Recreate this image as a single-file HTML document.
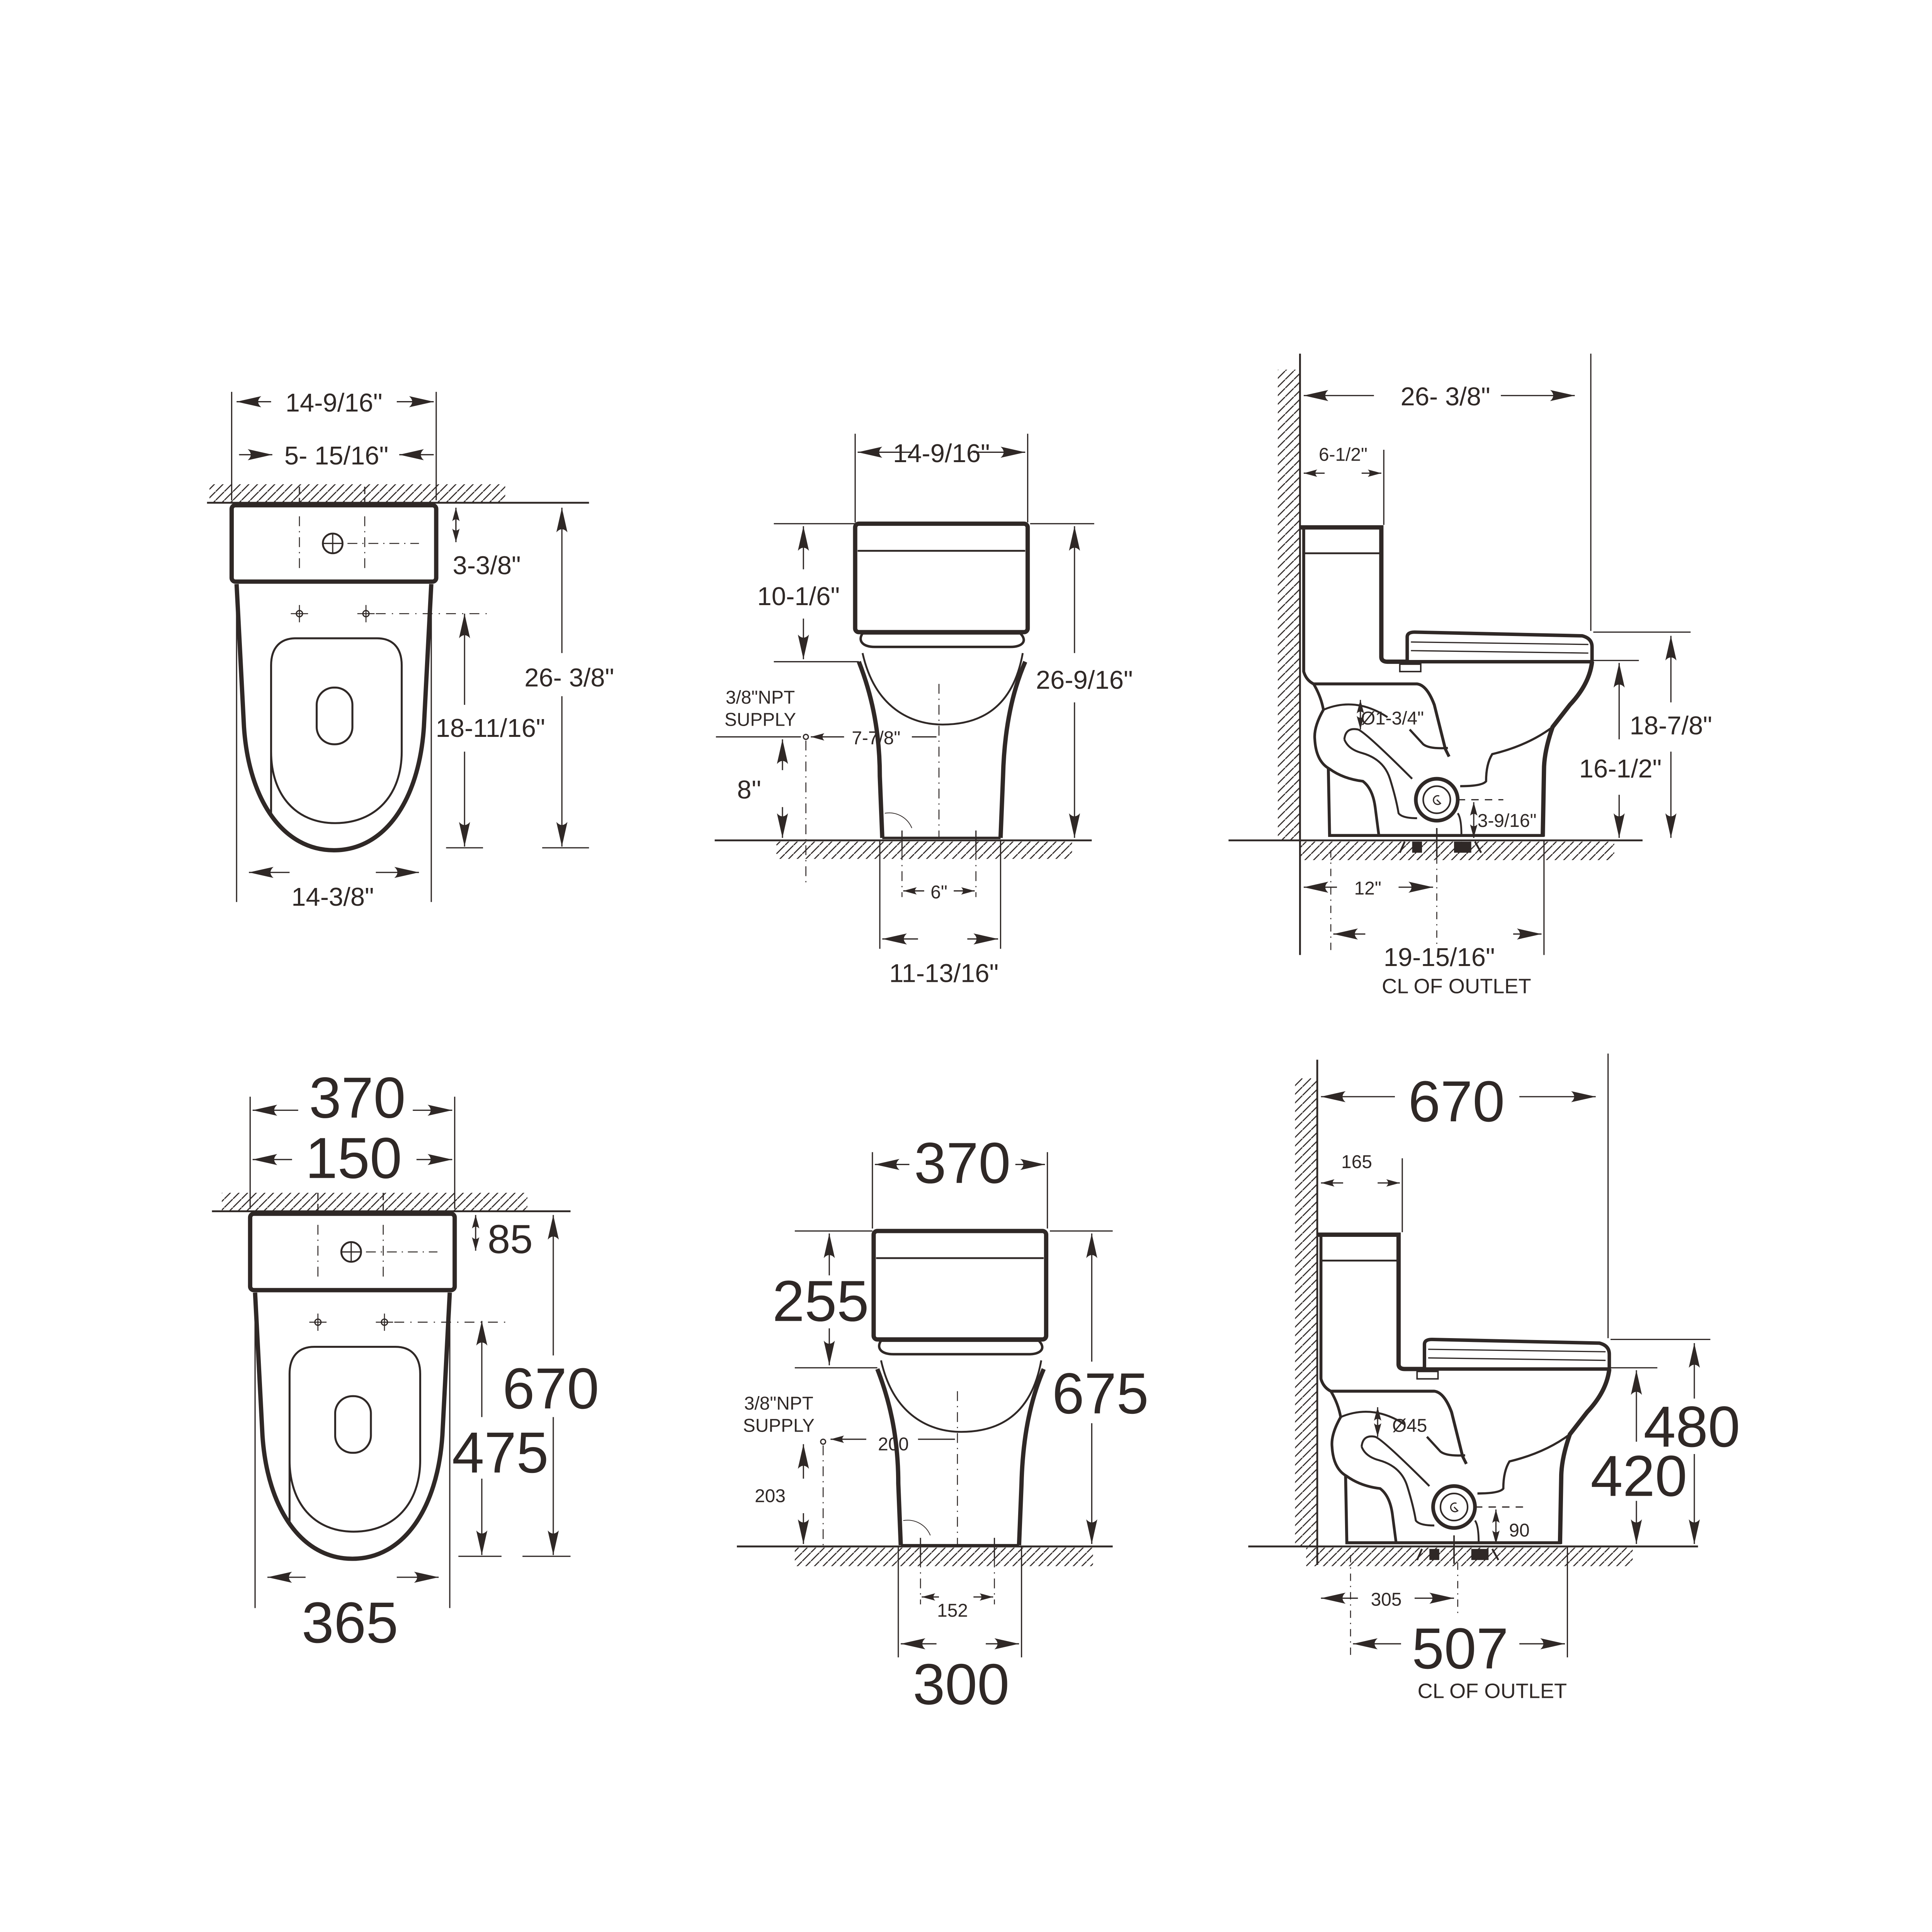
<!DOCTYPE html>
<html><head><meta charset="utf-8"><style>
html,body{margin:0;padding:0;background:#fff;width:100%;height:100%;overflow:hidden}
#wrap{position:absolute;left:0;top:0;width:100vw;height:100vh;overflow:hidden;background:#fff}
#wrap svg{position:absolute;left:0;top:0;transform:scale(3.189);transform-origin:0 0;display:block}
text{font-family:"Liberation Sans",Arial,sans-serif;fill:#2f2826}
</style></head><body><div id="wrap">
<svg width="1568" height="1568" viewBox="0 0 1568 1568" xmlns="http://www.w3.org/2000/svg" xmlns:xlink="http://www.w3.org/1999/xlink">
<defs>
<pattern id="h" patternUnits="userSpaceOnUse" width="7" height="7">
<path d="M-1,8 L8,-1" stroke="#2f2826" stroke-width="0.9"/>
</pattern>
<marker id="a" viewBox="-20 -5 21 10" refX="0" refY="0" markerWidth="21" markerHeight="10" markerUnits="userSpaceOnUse" orient="auto">
<path d="M0,0 L-20,-4.5 Q-15,0 -20,4.5 Z" fill="#2f2826"/>
</marker>
<marker id="s" viewBox="-11 -4 12 8" refX="0" refY="0" markerWidth="12" markerHeight="8" markerUnits="userSpaceOnUse" orient="auto">
<path d="M0,0 L-11,-3 Q-8,0 -11,3 Z" fill="#2f2826"/>
</marker>
<g id="plan" fill="none" stroke="#2f2826">
<rect x="188" y="410" width="166" height="62" rx="3" stroke-width="3.5"/>
<path d="M192,474 L198,590 C202,650 230,690 271,690 C312,690 340,650 344,590 L350,474" stroke-width="3.5"/>
<path d="M220,660 L220,540 C220,525 228,518 240,518 L306,518 C318,518 326,525 326,540 L326,610 C326,645 305,668 272,668 C240,668 220,645 220,610 Z" stroke-width="1.6"/>
<rect x="257" y="558" width="29" height="46" rx="14" stroke-width="1.6"/>
<circle cx="270" cy="441" r="8" stroke-width="1.5"/>
<path d="M262,441 L278,441 M270,433 L270,449" stroke-width="1"/>
<path d="M243,419 L243,463 M296,419 L296,463 M282,441 L340,441" stroke-width="0.8" stroke-dasharray="8,4,1,4"/>
<circle cx="243" cy="498" r="2.5" stroke-width="1"/>
<circle cx="297" cy="498" r="2.5" stroke-width="1"/>
<path d="M236,498 L250,498 M243,491 L243,505 M290,498 L304,498 M297,491 L297,505" stroke-width="0.8"/>
<path d="M305,498 L395,498" stroke-width="0.8" stroke-dasharray="8,5,1,5"/>
</g>
<g id="front" fill="none" stroke="#2f2826">
<rect x="694" y="425" width="140" height="88" rx="3" stroke-width="3.5"/>
<path d="M696,447 L832,447" stroke-width="1.5"/>
<path d="M700,514 C696,520 700,525 710,525 L820,525 C830,525 834,520 828,514 Z" stroke-width="2"/>
<path d="M700,530 C710,575 740,588 765,588 C795,588 822,575 830,530" stroke-width="1.5"/>
<path d="M697,537 C706,560 714,590 714,630 L716,680" stroke-width="3.5"/>
<path d="M832,537 C822,560 815,590 814,630 L812,680" stroke-width="3.5"/>
<path d="M716,680 L812,680" stroke-width="2"/>
<path d="M762,555 L762,680" stroke-width="0.8" stroke-dasharray="8,4,1,4"/>
<path d="M718,660 A20,20 0 0 1 740,672" stroke-width="0.6"/>
<path d="M732,674 L732,690 M792,674 L792,690" stroke-width="1"/>
</g>
<g id="side" fill="none" stroke="#2f2826">
<path d="M1055,428 L1121,428 L1121,533 Q1121,537 1126,537 L1142,537" stroke-width="3.5"/>
<path d="M1057,449 L1121,449" stroke-width="1.5"/>
<path d="M1142,537 L1142,517 Q1142,513 1148,513 L1284,516 Q1292,518 1292,525 L1292,537 Z" stroke-width="2.8"/>
<path d="M1145,521 L1289,523 M1145,528 L1289,530" stroke-width="1"/>
<rect x="1136" y="539" width="17" height="6" stroke-width="1.2"/>
<path d="M1058,428 L1058,545 Q1060,552 1066,555 L1150,555 Q1158,556 1164,572 L1173,608 L1176,614" stroke-width="2.4"/>
<path d="M1144,592 L1155,604 Q1160,608 1175,607" stroke-width="1.8"/>
<path d="M1292,537 Q1290,555 1274,572 L1260,590 Q1253,610 1253,625 L1252,679" stroke-width="3.5"/>
<path d="M1260,590 Q1240,605 1211,612 Q1206,620 1206,634 Q1203,638 1185,638" stroke-width="1.8"/>
<path d="M1066,555 Q1072,565 1074,576 Q1066,590 1067,600 Q1068,618 1079,624 Q1090,632 1106,634 Q1114,640 1116,655 L1119,678" stroke-width="2.2"/>
<path d="M1078,624 L1079,678 L1253,678" stroke-width="2.4"/>
<path d="M1074,576 Q1100,565 1126,582" stroke-width="1.6"/>
<path d="M1091,600 Q1092,590 1102,592 Q1108,594 1146,632" stroke-width="1.6"/>
<path d="M1091,600 Q1094,608 1105,611 Q1123,616 1128,632 Q1133,648 1135,660 Q1138,664 1150,664" stroke-width="1.6"/>
<circle cx="1166" cy="649" r="17" stroke-width="3"/>
<circle cx="1166" cy="649" r="11" stroke-width="1.3"/>
<path d="M1168,646 A3.5,3.5 0 1 0 1169,652 L1166,649" stroke-width="1"/>
<path d="M1183,660 Q1186,664 1186,678" stroke-width="1.5"/>
<rect x="1146" y="683" width="8" height="9" fill="#2f2826" stroke="none"/>
<rect x="1180" y="683" width="14" height="9" fill="#2f2826" stroke="none"/>
<path d="M1136,692 L1140,683 M1197,683 L1202,692" stroke-width="1.5"/>
<path d="M1166,672 L1166,695" stroke-width="1.2"/>
</g>
</defs>

<use xlink:href="#plan" href="#plan"/>
<use xlink:href="#front" href="#front"/>
<use xlink:href="#side" href="#side"/>
<use xlink:href="#plan" href="#plan" transform="translate(15,575)"/>
<use xlink:href="#front" href="#front" transform="translate(15,574)"/>
<use xlink:href="#side" href="#side" transform="translate(14,574)"/>

<g fill="none" stroke="#2f2826" stroke-width="1">
<path d="M168,408 L478,408" stroke-width="1.5"/>
<rect x="170" y="393" width="240" height="15" fill="url(#h)" stroke="none"/>
<path d="M188,318 L188,406 M354,318 L354,406 M192,474 L192,732 M350,474 L350,732"/>
<path d="M220,326 L192,326" marker-end="url(#a)"/><path d="M322,326 L352,326" marker-end="url(#a)"/>
<path d="M194,369 L221,369" marker-end="url(#a)"/><path d="M352,369 L324,369" marker-end="url(#a)"/>
<path d="M243,395 L243,408 M296,395 L296,408" stroke-dasharray="6,3"/>
<path d="M370,432 L370,412" marker-end="url(#s)"/><path d="M370,422 L370,440" marker-end="url(#s)"/>
<path d="M456,530 L456,412" marker-end="url(#a)"/><path d="M456,565 L456,687" marker-end="url(#a)"/>
<path d="M440,688 L478,688 M362,688 L392,688"/>
<path d="M377,572 L377,498" marker-end="url(#a)"/><path d="M377,610 L377,687" marker-end="url(#a)"/>
<path d="M235,708 L202,708" marker-end="url(#a)"/><path d="M305,708 L340,708" marker-end="url(#a)"/>
</g>
<g font-size="21" text-anchor="middle">
<text x="271" y="334">14-9/16"</text>
<text x="273" y="377">5- 15/16"</text>
<text x="395" y="466">3-3/8"</text>
<text x="462" y="557">26- 3/8"</text>
<text x="398" y="598">18-11/16"</text>
<text x="270" y="735">14-3/8"</text>
</g>

<g fill="none" stroke="#2f2826" stroke-width="1">
<path d="M580,682 L886,682" stroke-width="1.5"/>
<rect x="630" y="683" width="240" height="14" fill="url(#h)" stroke="none"/>
<path d="M694,352 L694,424 M834,352 L834,424"/>
<path d="M740,367 L696,367" marker-end="url(#a)"/><path d="M790,367 L832,367" marker-end="url(#a)"/>
<path d="M628,425 L694,425 M836,425 L888,425 M628,537 L697,537"/>
<path d="M652,462 L652,427" marker-end="url(#a)"/><path d="M652,502 L652,535" marker-end="url(#a)"/>
<path d="M872,530 L872,427" marker-end="url(#a)"/><path d="M872,570 L872,680" marker-end="url(#a)"/>
<path d="M581,598 L650,598"/>
<circle cx="654" cy="598" r="2"/>
<path d="M654,601 L654,716" stroke-dasharray="8,4,1,4" stroke-width="0.8"/>
<path d="M635,625 L635,600" marker-end="url(#a)"/><path d="M635,655 L635,680" marker-end="url(#a)"/>
<path d="M685,598 L658,598" marker-end="url(#s)"/><path d="M740,598 L760,598"/>
<path d="M732,690 L732,728 M792,690 L792,728" stroke-dasharray="8,4,1,4" stroke-width="0.8"/>
<path d="M750,723 L733,723" marker-end="url(#s)"/><path d="M774,723 L791,723" marker-end="url(#s)"/>
<path d="M714,682 L714,770 M812,682 L812,770"/>
<path d="M745,762 L716,762" marker-end="url(#a)"/><path d="M785,762 L810,762" marker-end="url(#a)"/>
</g>
<g font-size="21" text-anchor="middle">
<text x="764" y="375">14-9/16"</text>
<text x="648" y="491">10-1/6"</text>
<text x="880" y="559">26-9/16"</text>
<text x="608" y="648">8''</text>
<text x="766" y="797">11-13/16"</text>
</g>
<g font-size="15" text-anchor="middle">
<text x="617" y="571">3/8"NPT</text>
<text x="617" y="589">SUPPLY</text>
<text x="711" y="604">7-7/8"</text>
<text x="762" y="729">6"</text>
</g>

<g fill="none" stroke="#2f2826" stroke-width="1">
<path d="M1055,287 L1055,775" stroke-width="1.5"/>
<rect x="1037" y="300" width="18" height="382" fill="url(#h)" stroke="none"/>
<path d="M997,682 L1333,682" stroke-width="1.5"/>
<rect x="1055" y="683" width="255" height="15" fill="url(#h)" stroke="none"/>
<path d="M1291,287 L1291,512 M1123,365 L1123,426"/>
<path d="M1115,321 L1058,321" marker-end="url(#a)"/><path d="M1218,321 L1278,321" marker-end="url(#a)"/>
<path d="M1075,384 L1058,384" marker-end="url(#s)"/><path d="M1105,384 L1121,384" marker-end="url(#s)"/>
<path d="M1293,513 L1372,513 M1293,536 L1330,536"/>
<path d="M1356,570 L1356,516" marker-end="url(#a)"/><path d="M1356,610 L1356,680" marker-end="url(#a)"/>
<path d="M1314,600 L1314,538" marker-end="url(#a)"/><path d="M1314,645 L1314,680" marker-end="url(#a)"/>
<path d="M1104,580 L1104,568" marker-end="url(#s)"/><path d="M1104,580 L1104,592" marker-end="url(#s)"/>
<path d="M1183,649 L1220,649" stroke-dasharray="6,5"/>
<path d="M1196,666 L1196,651" marker-end="url(#s)"/><path d="M1196,666 L1196,680" marker-end="url(#s)"/>
<path d="M1080,690 L1080,775 M1166,695 L1166,770" stroke-dasharray="6,4,1,4" stroke-width="0.8"/>
<path d="M1253,682 L1253,775"/>
<path d="M1085,720 L1058,720" marker-end="url(#a)"/><path d="M1135,720 L1163,720" marker-end="url(#a)"/>
<path d="M1108,758 L1082,758" marker-end="url(#a)"/><path d="M1228,758 L1251,758" marker-end="url(#a)"/>
</g>
<g font-size="21" text-anchor="middle">
<text x="1173" y="329">26- 3/8"</text>
<text x="1356" y="596">18-7/8"</text>
<text x="1315" y="631">16-1/2"</text>
<text x="1168" y="784">19-15/16"</text>
</g>
<g font-size="15" text-anchor="middle">
<text x="1090" y="374">6-1/2"</text>
<text x="1130" y="588">Ø1-3/4"</text>
<text x="1223" y="671">3-9/16"</text>
<text x="1110" y="726">12"</text>
</g>
<g font-size="17" text-anchor="middle"><text x="1182" y="806">CL OF OUTLET</text></g>

<g fill="none" stroke="#2f2826" stroke-width="1">
<path d="M172,983 L463,983" stroke-width="1.5"/>
<rect x="180" y="968" width="248" height="15" fill="url(#h)" stroke="none"/>
<path d="M203,890 L203,981 M369,890 L369,981 M207,1049 L207,1305 M365,1049 L365,1305"/>
<path d="M242,901 L205,901" marker-end="url(#a)"/><path d="M335,901 L367,901" marker-end="url(#a)"/>
<path d="M237,941 L205,941" marker-end="url(#a)"/><path d="M338,941 L367,941" marker-end="url(#a)"/>
<path d="M258,968 L258,983 M311,968 L311,983" stroke-dasharray="6,3"/>
<path d="M386,1000 L386,986" marker-end="url(#s)"/><path d="M386,1000 L386,1015" marker-end="url(#s)"/>
<path d="M449,1100 L449,986" marker-end="url(#a)"/><path d="M449,1150 L449,1262" marker-end="url(#a)"/>
<path d="M424,1263 L463,1263 M372,1263 L407,1263"/>
<path d="M391,1150 L391,1072" marker-end="url(#a)"/><path d="M391,1200 L391,1262" marker-end="url(#a)"/>
<path d="M248,1280 L217,1280" marker-end="url(#a)"/><path d="M322,1280 L356,1280" marker-end="url(#a)"/>
</g>
<g font-size="47" text-anchor="middle">
<text x="290" y="907">370</text>
<text x="287" y="956">150</text>
<text x="447" y="1143">670</text>
<text x="406" y="1195">475</text>
<text x="284" y="1333">365</text>
</g>
<g font-size="33" text-anchor="middle"><text x="414" y="1017">85</text></g>

<g fill="none" stroke="#2f2826" stroke-width="1">
<path d="M598,1255 L903,1255" stroke-width="1.5"/>
<rect x="645" y="1256" width="242" height="15" fill="url(#h)" stroke="none"/>
<path d="M708,935 L708,997 M850,935 L850,997"/>
<path d="M738,945 L710,945" marker-end="url(#a)"/><path d="M824,945 L848,945" marker-end="url(#a)"/>
<path d="M645,999 L708,999 M852,999 L903,999 M645,1110 L712,1110"/>
<path d="M673,1035 L673,1001" marker-end="url(#a)"/><path d="M673,1078 L673,1108" marker-end="url(#a)"/>
<path d="M886,1105 L886,1001" marker-end="url(#a)"/><path d="M886,1155 L886,1253" marker-end="url(#a)"/>
<circle cx="668" cy="1170" r="2"/>
<path d="M668,1173 L668,1255" stroke-dasharray="8,4,1,4" stroke-width="0.8"/>
<path d="M652,1200 L652,1172" marker-end="url(#a)"/><path d="M652,1228 L652,1253" marker-end="url(#a)"/>
<path d="M703,1168 L674,1168" marker-end="url(#s)"/><path d="M745,1168 L775,1168"/>
<path d="M747,1264 L747,1302 M807,1264 L807,1302" stroke-dasharray="8,4,1,4" stroke-width="0.8"/>
<path d="M762,1296 L748,1296" marker-end="url(#s)"/><path d="M790,1296 L806,1296" marker-end="url(#s)"/>
<path d="M729,1255 L729,1345 M829,1255 L829,1345"/>
<path d="M760,1334 L731,1334" marker-end="url(#a)"/><path d="M800,1334 L827,1334" marker-end="url(#a)"/>
</g>
<g font-size="47" text-anchor="middle">
<text x="781" y="960">370</text>
<text x="666" y="1072">255</text>
<text x="893" y="1147">675</text>
<text x="780" y="1383">300</text>
</g>
<g font-size="15" text-anchor="middle">
<text x="632" y="1144">3/8"NPT</text>
<text x="632" y="1162">SUPPLY</text>
<text x="725" y="1177">200</text>
<text x="625" y="1219">203</text>
<text x="773" y="1312">152</text>
</g>

<g fill="none" stroke="#2f2826" stroke-width="1">
<path d="M1069,860 L1069,1270" stroke-width="1.5"/>
<rect x="1051" y="875" width="18" height="380" fill="url(#h)" stroke="none"/>
<path d="M1013,1255 L1378,1255" stroke-width="1.5"/>
<rect x="1060" y="1256" width="265" height="15" fill="url(#h)" stroke="none"/>
<path d="M1305,855 L1305,1086 M1138,940 L1138,1000"/>
<path d="M1132,890 L1072,890" marker-end="url(#a)"/><path d="M1233,890 L1295,890" marker-end="url(#a)"/>
<path d="M1090,960 L1072,960" marker-end="url(#s)"/><path d="M1118,960 L1136,960" marker-end="url(#s)"/>
<path d="M1307,1087 L1388,1087 M1307,1110 L1345,1110"/>
<path d="M1375,1135 L1375,1090" marker-end="url(#a)"/><path d="M1375,1180 L1375,1253" marker-end="url(#a)"/>
<path d="M1328,1170 L1328,1112" marker-end="url(#a)"/><path d="M1328,1218 L1328,1253" marker-end="url(#a)"/>
<path d="M1118,1154 L1118,1142" marker-end="url(#s)"/><path d="M1118,1154 L1118,1166" marker-end="url(#s)"/>
<path d="M1197,1223 L1240,1223" stroke-dasharray="6,5"/>
<path d="M1214,1240 L1214,1225" marker-end="url(#s)"/><path d="M1214,1240 L1214,1253" marker-end="url(#s)"/>
<path d="M1096,1262 L1096,1345 M1183,1268 L1183,1310" stroke-dasharray="6,4,1,4" stroke-width="0.8"/>
<path d="M1272,1255 L1272,1345"/>
<path d="M1102,1297 L1072,1297" marker-end="url(#a)"/><path d="M1148,1297 L1180,1297" marker-end="url(#a)"/>
<path d="M1137,1334 L1098,1334" marker-end="url(#a)"/><path d="M1233,1334 L1270,1334" marker-end="url(#a)"/>
</g>
<g font-size="47" text-anchor="middle">
<text x="1182" y="910">670</text>
<text x="1373" y="1174">480</text>
<text x="1330" y="1214">420</text>
<text x="1185" y="1354">507</text>
</g>
<g font-size="15" text-anchor="middle">
<text x="1101" y="948">165</text>
<text x="1144" y="1162">Ø45</text>
<text x="1233" y="1247">90</text>
<text x="1125" y="1303">305</text>
</g>
<g font-size="17" text-anchor="middle"><text x="1211" y="1378">CL OF OUTLET</text></g>
</svg>
</div></body></html>
